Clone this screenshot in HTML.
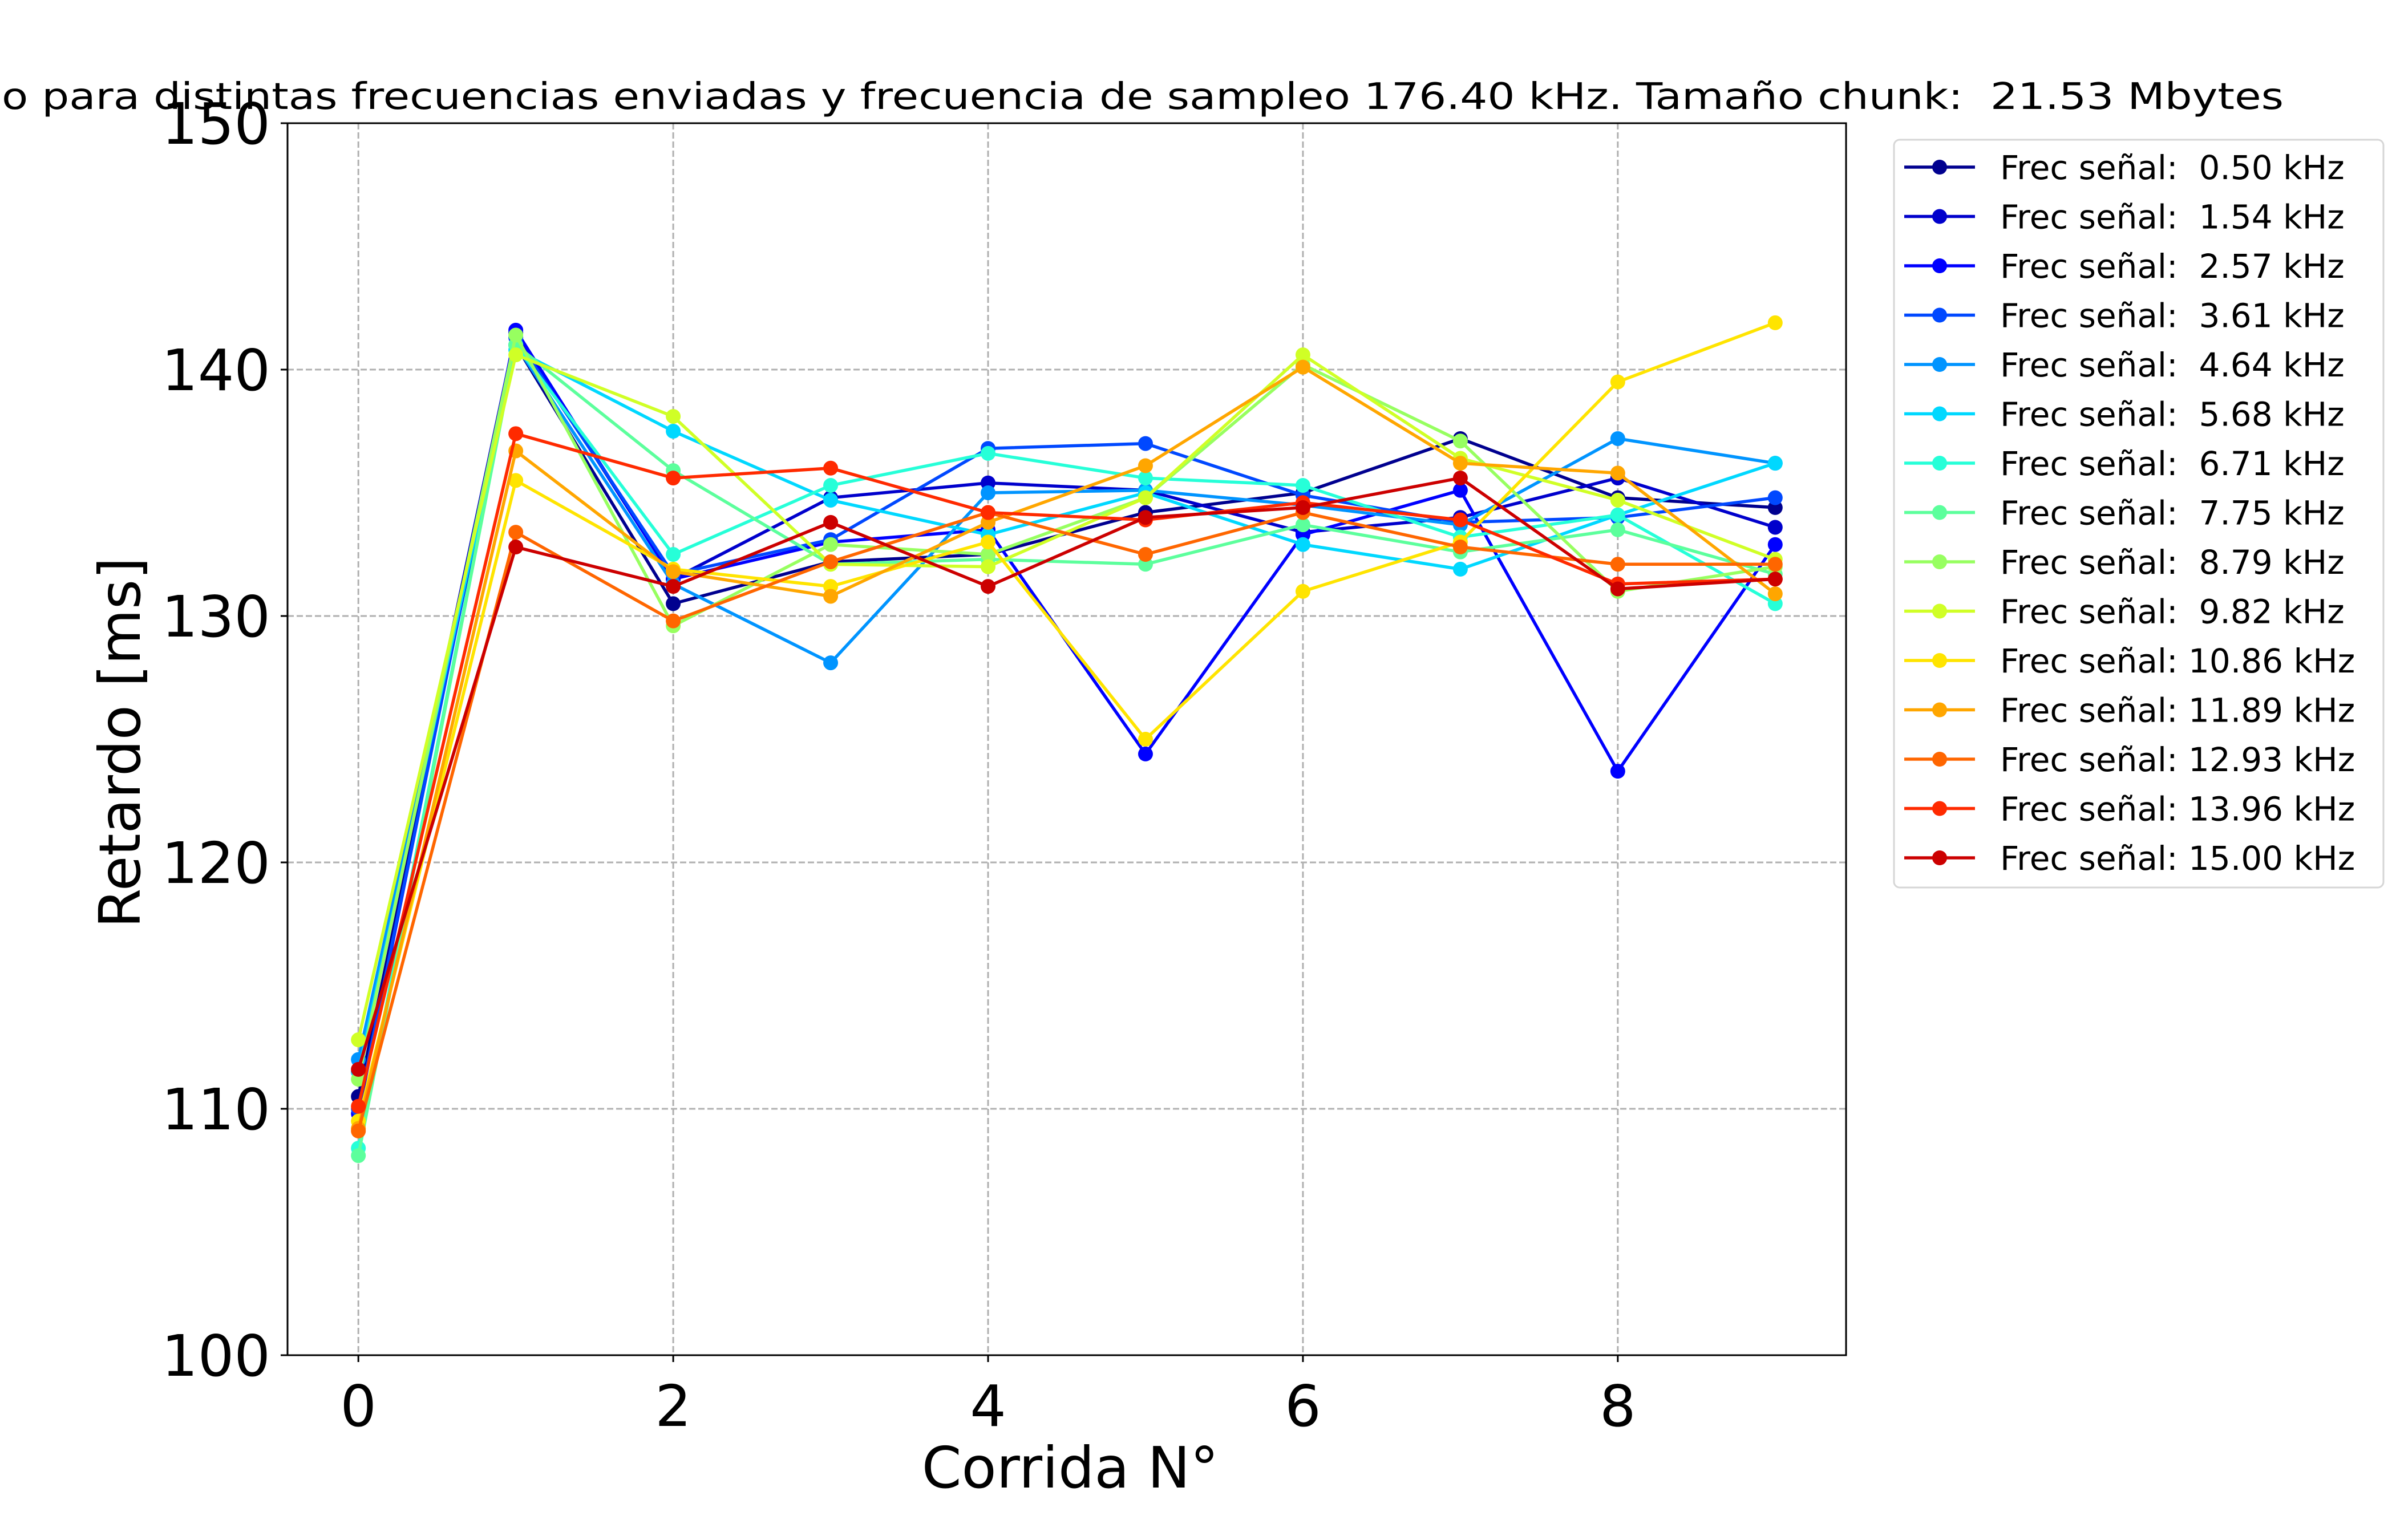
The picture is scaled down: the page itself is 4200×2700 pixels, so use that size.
<!DOCTYPE html>
<html><head><meta charset="utf-8"><style>
html,body{margin:0;padding:0;background:#fff}
svg{display:block;font-family:"DejaVu Sans","Liberation Sans",sans-serif}
text{white-space:pre}
</style></head><body>
<svg id="chart" width="4200" height="2700" viewBox="0 0 4200 2700" xmlns="http://www.w3.org/2000/svg" xml:space="preserve">
<rect width="4200" height="2700" fill="#fff"/>
<text x="3" y="191" font-size="64" textLength="4000" lengthAdjust="spacingAndGlyphs">o para distintas frecuencias enviadas y frecuencia de sampleo 176.40 kHz. Tamaño chunk:  21.53 Mbytes</text>
<g id="grid"></g>
<g id="series"></g>
<rect x="504" y="216" width="2732" height="2160" fill="none" stroke="#000" stroke-width="3"/>
<g id="ticks"></g>
<text x="1876" y="2608" font-size="100" text-anchor="middle">Corrida N°</text>
<text x="0" y="0" font-size="100" text-anchor="middle" transform="translate(245,1302) rotate(-90)">Retardo [ms]</text>
<g id="legend"></g>
</svg>
<script>
const runs = [0,1,2,3,4,5,6,7,8,9];
const labels = ["Frec señal:  0.50 kHz","Frec señal:  1.54 kHz","Frec señal:  2.57 kHz","Frec señal:  3.61 kHz","Frec señal:  4.64 kHz","Frec señal:  5.68 kHz","Frec señal:  6.71 kHz","Frec señal:  7.75 kHz","Frec señal:  8.79 kHz","Frec señal:  9.82 kHz","Frec señal: 10.86 kHz","Frec señal: 11.89 kHz","Frec señal: 12.93 kHz","Frec señal: 13.96 kHz","Frec señal: 15.00 kHz"];
const colors = ["#00008f","#0000cc","#0000ff","#0048ff","#0094ff","#00d8ff","#26ffd8","#5cff9c","#97ff60","#d0ff26","#ffe400","#ffa600","#ff6600","#ff2a00","#cc0000"];
const s0 = [110.5,141.0,130.5,132.2,132.5,134.2,135.0,137.2,134.8,134.4];
const s1 = [111.5,141.5,131.5,134.8,135.4,135.1,133.4,134.0,135.6,133.6];
const s2 = [109.8,141.6,131.5,133.0,133.5,124.4,133.3,135.1,123.7,132.9];
const s3 = [110.0,141.3,131.7,133.1,136.8,137.0,134.9,133.8,134.0,134.8];
const s4 = [112.0,141.0,131.3,128.1,135.0,135.1,134.5,133.7,137.2,136.2];
const s5 = [111.5,140.8,137.5,134.7,133.3,135.0,132.9,131.9,134.1,136.2];
const s6 = [108.4,141.0,132.5,135.3,136.6,135.6,135.3,133.2,134.1,130.5];
const s7 = [108.1,141.0,135.9,132.1,132.3,132.1,133.7,132.6,133.5,131.7];
const s8 = [111.2,141.4,129.6,132.9,132.5,134.8,140.2,137.1,131.0,132.0];
const s9 = [112.8,140.6,138.1,132.1,132.0,134.8,140.6,136.4,134.7,132.3];
const s10 = [109.5,135.5,131.9,131.2,133.0,125.0,131.0,133.0,139.5,141.9];
const s11 = [109.2,136.7,131.8,130.8,133.8,136.1,140.1,136.2,135.8,130.9];
const s12 = [109.1,133.4,129.8,132.2,134.2,132.5,134.2,132.8,132.1,132.1];
const s13 = [110.1,137.4,135.6,136.0,134.2,133.9,134.6,133.9,131.3,131.5];
const s14 = [111.6,132.8,131.2,133.8,131.2,134.0,134.4,135.6,131.1,131.5];
const seriesData = [s0,s1,s2,s3,s4,s5,s6,s7,s8,s9,s10,s11,s12,s13,s14];
const xTicks = [0,2,4,6,8];
const yTicks = [100,110,120,130,140,150];

const NS="http://www.w3.org/2000/svg";
const L=504,R=3236,T=216,B=2376,xmin=-0.45,xmax=9.45,ymin=100,ymax=150;
function sx(v){return L+(v-xmin)/(xmax-xmin)*(R-L);}
function sy(v){return B-(v-ymin)/(ymax-ymin)*(B-T);}
function mk(tag,attrs,parent){const e=document.createElementNS(NS,tag);for(const k in attrs)e.setAttribute(k,attrs[k]);parent.appendChild(e);return e;}
const grid=document.getElementById('grid'),ticks=document.getElementById('ticks');
xTicks.forEach(v=>{
  const g=mk('line',{x1:sx(v),x2:sx(v),y1:T,y2:B,stroke:'#b0b0b0','stroke-width':3,'stroke-dasharray':'11,5'},grid);
  
  
  const t=mk('line',{x1:sx(v),x2:sx(v),y1:B,y2:B+12,stroke:'#000','stroke-width':3},ticks);
  
  
  const tx=mk('text',{x:sx(v),y:2500,'font-size':100,'text-anchor':'middle'},ticks);
  tx.textContent=v;
  
  
});
yTicks.forEach(v=>{
  const g=mk('line',{x1:L,x2:R,y1:sy(v),y2:sy(v),stroke:'#b0b0b0','stroke-width':3,'stroke-dasharray':'11,5'},grid);
  
  
  const t=mk('line',{x1:L-12,x2:L,y1:sy(v),y2:sy(v),stroke:'#000','stroke-width':3},ticks);
  
  
  const tx=mk('text',{x:474,y:sy(v)+36,'font-size':100,'text-anchor':'end'},ticks);
  tx.textContent=v;
  
  
});
const sg=document.getElementById('series');
seriesData.forEach((d,i)=>{
  const g=mk('g',{},sg);
  
  
  const pl=mk('polyline',{points:d.map((v,j)=>sx(runs[j])+','+sy(v)).join(' '),fill:'none',stroke:colors[i],'stroke-width':5.5,'stroke-linejoin':'round'},g);
  
  
  d.forEach((v,j)=>{
    const c=mk('circle',{cx:sx(runs[j]),cy:sy(v),r:13,fill:colors[i]},g);
    
    
  });
});
const lg=document.getElementById('legend');
const box=mk('rect',{x:3320,y:245,width:858,height:1311,rx:10,fill:'#fff',stroke:'#d6d6d6','stroke-width':3},lg);


labels.forEach((lab,i)=>{
  const y=293+i*86.5;
  const g=mk('g',{},lg);
  
  
  mk('line',{x1:3338,x2:3462,y1:y,y2:y,stroke:colors[i],'stroke-width':5.5},g);
  mk('circle',{cx:3400,cy:y,r:13,fill:colors[i]},g);
  const t=mk('text',{x:3506,y:y+21,'font-size':58},g);
  t.textContent=lab;
  
  
});
</script>
</body></html>
